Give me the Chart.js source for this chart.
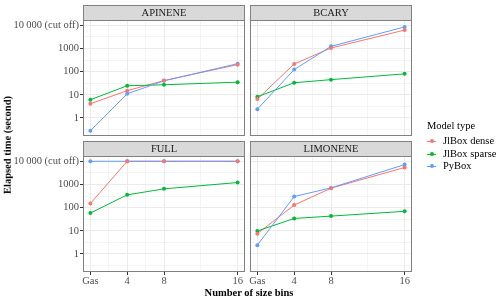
<!DOCTYPE html>
<html>
<head>
<meta charset="utf-8">
<script src="https://cdn.jsdelivr.net/npm/chart.js@4.4.0/dist/chart.umd.min.js"></script>
<style>
body { margin: 0; background: #fff; }
#wrap { position: relative; width: 500px; height: 300px; font-family: 'Liberation Serif', serif; }
#wrap canvas { position: absolute; left: 0; top: 0; }
.txt { position: absolute; white-space: nowrap; line-height: 1; }
#xtitle { left: 249px; top: 292.5px; transform: translate(-50%, -50%); font-weight: bold; font-size: 10.5px; color: #000; }
#ytitle { left: 8px; top: 145px; transform: translate(-50%, -50%) rotate(-90deg); font-weight: bold; font-size: 10.5px; color: #000; }
#legtitle { left: 427px; top: 126px; transform: translateY(-50%); font-size: 10.5px; color: #000; }
.key { position: absolute; left: 427px; width: 9px; height: 1px; }
.key span { position: absolute; left: 2.5px; top: -1.5px; width: 4px; height: 4px; border-radius: 2px; }
.lab { position: absolute; left: 443px; transform: translateY(-50%); font-size: 10.5px; color: #000; white-space: nowrap; line-height: 1; }
</style>
</head>
<body>
<div id="wrap">
  <canvas id="c0" width="500" height="300"></canvas>
  <canvas id="c1" width="500" height="300"></canvas>
  <canvas id="c2" width="500" height="300"></canvas>
  <canvas id="c3" width="500" height="300"></canvas>
  <div class="txt" id="xtitle">Number of size bins</div>
  <div class="txt" id="ytitle">Elapsed time (second)</div>
  <div class="txt" id="legtitle">Model type</div>
  <div id="legend"></div>
</div>
<script>
// x positions (number of size bins, Gas = 0)
var binValues = [0, 4, 8, 16];
var binLabels = ['Gas', '4', '8', '16'];
var xMinor = [2, 6, 12];

// y axis (log)
var yTicks = [1, 10, 100, 1000, 10000];
var yTickLabels = ['1', '10', '100', '1000', '10\u2009000 (cut off)'];

var panelNames = ['APINENE', 'BCARY', 'FULL', 'LIMONENE'];
var seriesNames = ['JlBox dense', 'JlBox sparse', 'PyBox'];
var seriesColors = ['#F8766D', '#00BA38', '#619CFF'];

// elapsed time (seconds) per panel, order: Gas, 4, 8, 16
var apineneDense = [4.1, 15, 41, 200];
var apineneSparse = [6.1, 24.5, 27, 35];
var apinenePy = [0.28, 11, 40, 220];

var bcaryDense = [6.5, 213, 1050, 6200];
var bcarySparse = [8.2, 33, 45, 80];
var bcaryPy = [2.4, 122, 1230, 8500];

var fullDense = [150, 10000, 10000, 10000];
var fullSparse = [58, 355, 645, 1210];
var fullPy = [10000, 10000, 10000, 10000];

var limoneneDense = [7.5, 128, 690, 5400];
var limoneneSparse = [9.8, 34, 43, 69];
var limonenePy = [2.4, 300, 710, 7200];

var panelData = [
    [apineneDense, apineneSparse, apinenePy],
    [bcaryDense, bcarySparse, bcaryPy],
    [fullDense, fullSparse, fullPy],
    [limoneneDense, limoneneSparse, limonenePy]
];

// panel boxes on the page
var panels = [
    {left: 83, right: 245, top: 20, bottom: 136, showY: true, showX: false},
    {left: 250, right: 412, top: 20, bottom: 136, showY: false, showX: false},
    {left: 83, right: 245, top: 156, bottom: 272, showY: true, showX: true},
    {left: 250, right: 412, top: 156, bottom: 272, showY: false, showX: true}
];

Chart.defaults.font.family = "'Liberation Serif', serif";

// major lines at decades, minor lines half way between (log space)
var yGrid = [];
for (var k = -1; k <= 8; k++) {
    yGrid.push(k % 2 === 0 ? Math.pow(10, k / 2) : Math.pow(10, k / 2));
}
yGrid = yGrid.map(function(v, j) { return (j - 1) % 2 === 0 ? Math.pow(10, (j - 1) / 2) : v; });
var xGrid = binValues.concat(xMinor).sort(function(a, b) { return a - b; });

var panelFrame = {
    id: 'panelFrame',
    afterDraw: function(chart, args, opts) {
        var a = chart.chartArea, ctx = chart.ctx;
        var w = a.right - a.left;
        ctx.save();
        ctx.fillStyle = '#d9d9d9';
        ctx.fillRect(a.left, a.top - 15, w, 15);
        ctx.strokeStyle = '#808080';
        ctx.lineWidth = 1;
        ctx.strokeRect(a.left + 0.5, a.top - 15 + 0.5, w - 1, 15);
        ctx.strokeRect(a.left + 0.5, a.top + 0.5, w - 1, a.bottom - a.top - 1);
        ctx.fillStyle = '#1a1a1a';
        ctx.font = "10.5px 'Liberation Serif', serif";
        ctx.textAlign = 'center';
        ctx.textBaseline = 'middle';
        ctx.fillText(opts.title, a.left + w / 2, a.top - 7);
        ctx.restore();
    }
};

function isMajorX(v) { return binValues.indexOf(v) >= 0; }
function isMajorY(v) { return yTicks.indexOf(v) >= 0; }

function makeChart(idx) {
    var p = panels[idx];
    var datasets = [];
    panelData[idx].forEach(function(vals, i) {
        var pts = binValues.map(function(x, j) { return {x: x, y: vals[j]}; });
        datasets.push({
            label: seriesNames[i], data: pts, borderColor: seriesColors[i],
            borderWidth: 1, pointRadius: 0, fill: false, order: 5 - i
        });
        datasets.push({
            label: seriesNames[i], data: pts, showLine: false, pointRadius: 2,
            pointBackgroundColor: seriesColors[i], pointBorderWidth: 0, order: i
        });
    });
    return new Chart(document.getElementById('c' + idx), {
        type: 'line',
        data: {datasets: datasets},
        plugins: [panelFrame],
        options: {
            responsive: false,
            animation: false,
            devicePixelRatio: 1,
            layout: {
                padding: {
                    left: p.showY ? p.left - 83 : p.left,
                    top: p.top,
                    right: 500 - p.right,
                    bottom: p.showX ? 300 - p.bottom - 18 : 300 - p.bottom
                }
            },
            plugins: {
                legend: {display: false},
                tooltip: {enabled: false},
                panelFrame: {title: panelNames[idx]}
            },
            scales: {
                x: {
                    type: 'linear', min: -0.8, max: 16.8,
                    afterBuildTicks: function(s) { s.ticks = xGrid.map(function(v) { return {value: v}; }); },
                    afterFit: function(s) { s.height = p.showX ? 18 : 0; },
                    border: {display: false},
                    grid: {
                        color: '#ebebeb',
                        lineWidth: function(c) { return isMajorX(c.tick.value) ? 1 : 0.55; },
                        drawTicks: p.showX, tickLength: 3, tickWidth: 1,
                        tickColor: function(c) { return isMajorX(c.tick.value) ? '#333333' : 'rgba(0,0,0,0)'; }
                    },
                    ticks: {
                        display: p.showX, autoSkip: false, maxRotation: 0, padding: 0,
                        color: '#4d4d4d', font: {size: 10.5},
                        callback: function(v) { var k = binValues.indexOf(v); return k < 0 ? '' : binLabels[k]; }
                    }
                },
                y: {
                    type: 'logarithmic', min: Math.pow(10, -0.78), max: Math.pow(10, 4.228),
                    afterBuildTicks: function(s) { s.ticks = yGrid.map(function(v) { return {value: v}; }); },
                    afterFit: function(s) { s.width = p.showY ? 83 : 0; },
                    border: {display: false},
                    grid: {
                        color: '#ebebeb',
                        lineWidth: function(c) { return isMajorY(c.tick.value) ? 1 : 0.55; },
                        drawTicks: p.showY, tickLength: 3, tickWidth: 1,
                        tickColor: function(c) { return isMajorY(c.tick.value) ? '#333333' : 'rgba(0,0,0,0)'; }
                    },
                    ticks: {
                        display: p.showY, autoSkip: false, padding: 1, color: '#4d4d4d', font: {size: 10.5},
                        callback: function(v) { var k = yTicks.indexOf(v); return k < 0 ? '' : yTickLabels[k]; }
                    }
                }
            }
        }
    });
}

for (var i = 0; i < 4; i++) makeChart(i);

// legend
var legendTops = [141, 154, 166];
var legend = document.getElementById('legend');
seriesNames.forEach(function(name, i) {
    var key = document.createElement('div');
    key.className = 'key';
    key.style.top = (legendTops[i] - 0.5) + 'px';
    key.style.background = seriesColors[i];
    var dot = document.createElement('span');
    dot.style.background = seriesColors[i];
    key.appendChild(dot);
    legend.appendChild(key);
    var lab = document.createElement('div');
    lab.className = 'lab';
    lab.style.top = legendTops[i] + 'px';
    lab.textContent = name;
    legend.appendChild(lab);
});
</script>
</body>
</html>
